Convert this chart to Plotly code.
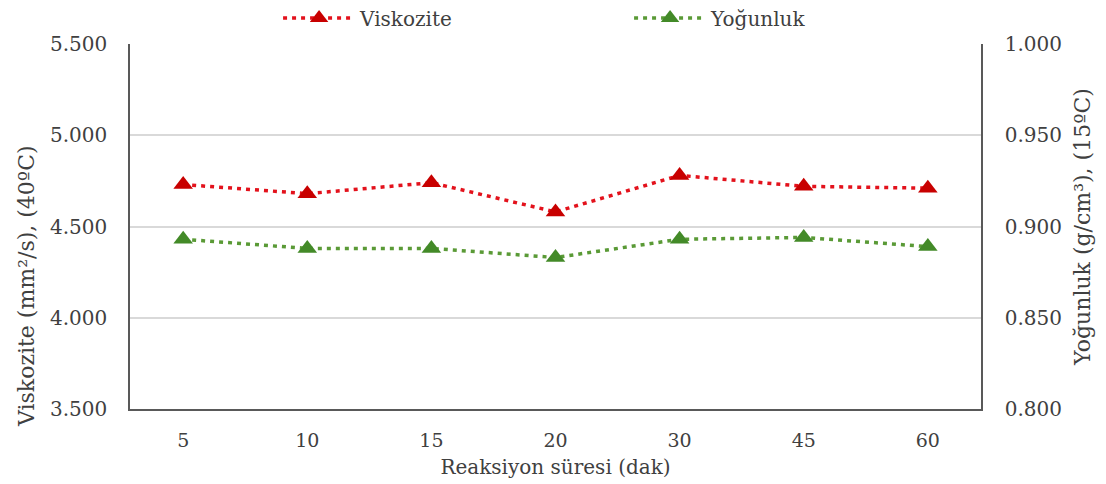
import plotly.graph_objects as go

# Reaction time categories (minutes)
sureler = ["5", "10", "15", "20", "30", "45", "60"]
# Kinematic viscosity at 40 °C (mm²/s)
viskozite = [4.73, 4.68, 4.74, 4.58, 4.78, 4.72, 4.71]
# Density at 15 °C (g/cm³)
yogunluk = [0.893, 0.888, 0.888, 0.883, 0.893, 0.894, 0.889]

sol_ticks = [3.5, 4.0, 4.5, 5.0, 5.5]
sag_ticks = [0.80, 0.85, 0.90, 0.95, 1.00]

FONT = "DejaVu Serif"
METIN = "#404040"

fig = go.Figure()
fig.add_trace(go.Scatter(
    x=sureler, y=viskozite, name="Viskozite", mode="lines+markers",
    line=dict(color="#E3121C", width=3.5, dash="4px,5px"),
    marker=dict(symbol="triangle-up", size=17, color="#C80000"),
))
fig.add_trace(go.Scatter(
    x=sureler, y=yogunluk, name="Yoğunluk", mode="lines+markers", yaxis="y2",
    line=dict(color="#5A9A36", width=3.5, dash="4px,5px"),
    marker=dict(symbol="triangle-up", size=17, color="#438A28"),
))

# Left axis title, set slightly below the plot's vertical centre
fig.add_annotation(
    text="Viskozite (mm²/s), (40ºC)", textangle=-90, showarrow=False,
    xref="paper", yref="paper", x=-0.121, y=0.337,
    xanchor="center", yanchor="middle",
    font=dict(family=FONT, size=22, color=METIN),
)

fig.update_layout(
    width=1106, height=484,
    margin=dict(l=130, r=125, t=44, b=75, autoexpand=False),
    paper_bgcolor="white", plot_bgcolor="white",
    font=dict(family=FONT, size=20, color=METIN),
    showlegend=True,
    legend=dict(
        orientation="h", x=0.174, xanchor="left",
        y=1.071, yanchor="middle",
        font=dict(family=FONT, size=20, color=METIN),
        itemwidth=72,
        entrywidth=264, entrywidthmode="pixels",
        bgcolor="rgba(0,0,0,0)",
    ),
    xaxis=dict(
        type="category", showgrid=False,
        showline=True, linecolor="#595959", linewidth=1.5,
        ticks="", ticklabelstandoff=13,
        tickfont=dict(family=FONT, size=19, color=METIN),
        title=dict(text="Reaksiyon süresi (dak)", standoff=10,
                   font=dict(family=FONT, size=20, color=METIN)),
    ),
    yaxis=dict(
        range=[3.5, 5.5], tickvals=sol_ticks, tickformat=".3f",
        showgrid=True, gridcolor="#D9D9D9", gridwidth=1.5,
        showline=True, linecolor="#595959", linewidth=1.5,
        zeroline=False, ticks="", ticklabelstandoff=17,
        tickfont=dict(family=FONT, size=20, color=METIN),
    ),
    yaxis2=dict(
        overlaying="y", side="right",
        range=[0.8, 1.0], tickvals=sag_ticks, tickformat=".3f",
        showgrid=False,
        showline=True, linecolor="#595959", linewidth=1.5,
        zeroline=False, ticks="", ticklabelstandoff=18,
        tickfont=dict(family=FONT, size=20, color=METIN),
        title=dict(text="Yoğunluk (g/cm³), (15ºC)", standoff=14,
                   font=dict(family=FONT, size=22, color=METIN)),
    ),
)

fig.write_html("out.html")
